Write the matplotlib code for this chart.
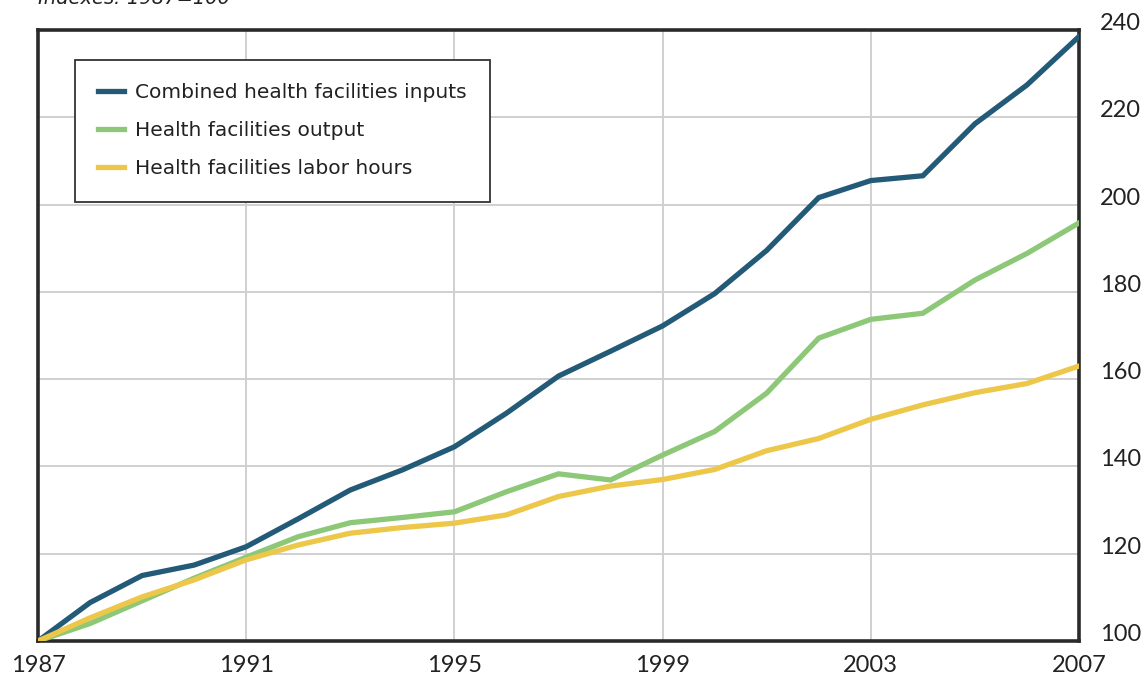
import matplotlib
matplotlib.use("Agg")
import matplotlib.pyplot as plt

years = list(range(1987, 2008))
combined_inputs = [100, 108.8, 115.0, 117.4, 121.6, 128.0, 134.6, 139.2, 144.5, 152.2, 160.7,
                   166.4, 172.2, 179.6, 189.5, 201.6, 205.5, 206.6, 218.5, 227.4, 238.5]
facilities_output = [100, 104.0, 109.2, 114.4, 119.2, 123.9, 127.1, 128.3, 129.6, 134.2, 138.3,
                     136.9, 142.6, 148.0, 156.8, 169.4, 173.7, 175.1, 182.7, 188.8, 195.8]
labor_hours = [100, 105.3, 110.1, 114.0, 118.6, 122.0, 124.7, 126.0, 127.0, 128.9, 133.1,
               135.5, 137.0, 139.3, 143.6, 146.4, 150.8, 154.1, 156.9, 159.0, 163.0]
series_labels = ["Combined health facilities inputs", "Health facilities output",
                 "Health facilities labor hours"]
x_ticks = [1987, 1991, 1995, 1999, 2003, 2007]
y_ticks = [100, 120, 140, 160, 180, 200, 220, 240]

colors = ["#235a78", "#8cc878", "#edc74a"]

fig = plt.figure(figsize=(11.46, 6.77), dpi=100)
ax = fig.add_axes([38/1146, 36/677, 1041/1146, 611/677])

for vals, lab, c in zip([combined_inputs, facilities_output, labor_hours], series_labels, colors):
    ax.plot(years, vals, color=c, lw=3.8, label=lab, solid_joinstyle="miter", zorder=3)

ax.set_xlim(1987, 2007)
ax.set_ylim(100, 240)
ax.set_xticks(x_ticks)
ax.set_yticks(y_ticks)
ax.yaxis.tick_right()
ax.tick_params(length=0, labelsize=17, colors="#222222")
ax.tick_params(axis="y", pad=15)
ax.tick_params(axis="x", pad=10)
for lbl in ax.get_xticklabels() + ax.get_yticklabels():
    lbl.set_family("Lato")
for lbl in ax.get_yticklabels():
    lbl.set_verticalalignment("baseline")
ax.grid(True, color="#d0d0d0", lw=1.4, zorder=0)
for s in ax.spines.values():
    s.set_linewidth(2.6)
    s.set_color("#2a2a2a")

leg = ax.legend(loc="upper left", bbox_to_anchor=(0.0355, 0.951), fontsize=14.5,
                frameon=True, fancybox=False, edgecolor="#333333", framealpha=1,
                handlelength=1.3, handletextpad=0.55, borderpad=1.15, labelspacing=0.95,
                borderaxespad=0)
leg.get_frame().set_linewidth(1.3)
for t in leg.get_texts():
    t.set_color("#222222")

fig.text(38/1146, 1 + 2/677, "Indexes: 1987=100", fontsize=14, style="italic",
         va="center", ha="left", color="#222222")

fig.savefig("out.png", dpi=100)
